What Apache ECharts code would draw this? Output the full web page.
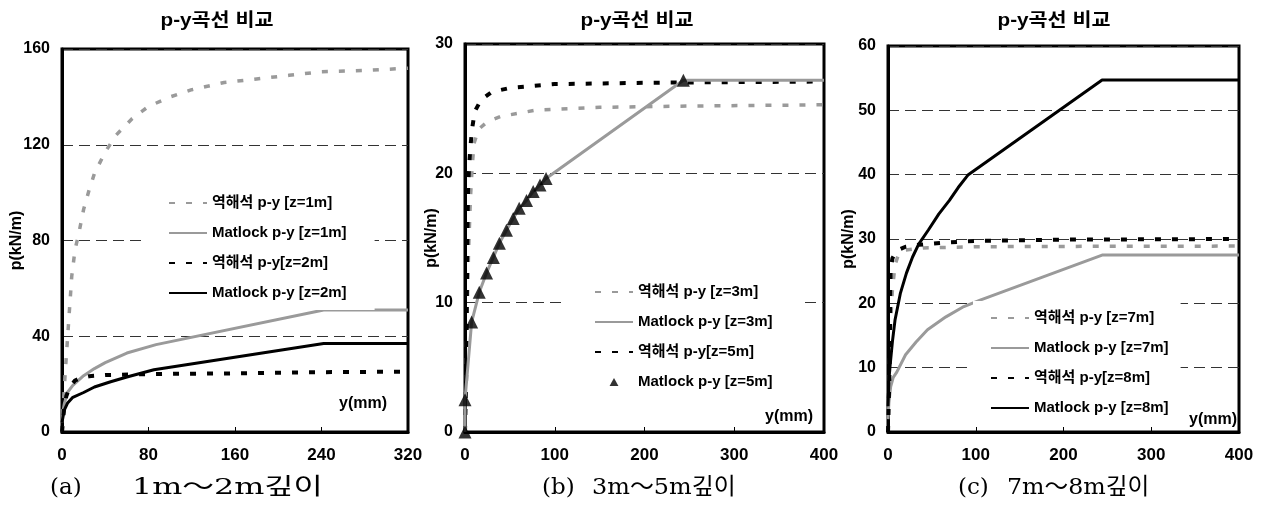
<!DOCTYPE html>
<html>
<head>
<meta charset="utf-8">
<script src="https://cdn.jsdelivr.net/npm/echarts@6/dist/echarts.min.js"></script>
<style>
html,body{margin:0;padding:0;background:#fff;}
#chart{width:1265px;height:508px;}
</style>
</head>
<body>
<div id="chart"></div>
<script>
// ---------- Data ----------
// Panel (a): 1m ~ 2m
const invA1_y = [0,1,3,6,9,12,16,20,25,30,40,50,65,80,100,120,150,180,210,240,280,320];
const invA1_p = [0,10,25,45,65,76,84,93,101,108,117,124,131,136,140,143,146,147.5,149,150.5,151,152];
const matA1_y = [0,1,2,5,10,20,30,40,60,87,242,320];
const matA1_p = [4,9,11.5,16.5,19.5,23.5,26.5,29,33,36.5,51,51];
const invA2_y = [0,2,4,7,12,17,25,40,80,160,240,320];
const invA2_p = [0,10,15,18.5,21.5,22.5,23.3,23.8,24.2,24.5,25,25.2];
const matA2_y = [0,2,5,10,20,30,45,60,85,242,320];
const matA2_p = [4,9,12,14.5,16.5,18.8,21,23,26,37,37];

// Panel (b): 3m ~ 5m
const invB3_y = [0,2,4,6,8,10,15,25,40,80,150,250,400];
const invB3_p = [0,8,14,18,20.5,22.3,23.4,24,24.4,24.9,25.1,25.2,25.3];
const matB3_y = [0,0,7.4,15.9,24,31.6,38.3,46.2,53.7,60.4,68.5,76,83.6,90.3,243.3,400];
const matB3_p = [0,2.5,8.5,10.8,12.3,13.5,14.6,15.6,16.5,17.3,17.9,18.6,19.1,19.6,27.2,27.2];
const invB5_y = [0,1.5,2,2.5,3,3.5,4.5,6,8,11,18,30,50,100,200,400];
const invB5_p = [0,5,10,14,17,19,20.5,22,23.5,24.8,25.7,26.3,26.6,26.9,27,27.1];
const matB5_y = [0,0,7.4,15.9,24,31.6,38.3,46.2,53.7,60.4,68.5,76,83.6,90.3,243.3];
const matB5_p = [0,2.5,8.5,10.8,12.3,13.5,14.6,15.6,16.5,17.3,17.9,18.6,19.1,19.6,27.2];

// Panel (c): 7m ~ 8m
const invC7_y = [0,1,2,3,5,8,12,20,40,100,200,400];
const invC7_p = [0,6,12,17,22,26,27.6,28.3,28.6,28.8,28.85,28.9];
const matC7_y = [0,1,3,6,10,20,32,45,66,85,105,244,400];
const matC7_p = [2,4.5,7,8.5,9.3,12,14,15.9,17.9,19.4,20.5,27.5,27.5];
const invC8_y = [0,1.5,2.3,2.5,3,5,10,20,35,60,100,200,400];
const invC8_p = [0,8,16,22,25,27,28.2,28.8,29.1,29.4,29.7,29.9,30];
const matC8_y = [0,1,2.3,5,8,14,21,28,35,46,58,70,80,91.5,244,400];
const matC8_p = [4,8,10.2,14,17.4,21.5,24.7,27.2,29.2,31.4,33.9,36,38,40,54.7,54.7];

// Axis ticks
const xTicksA = {min:0, max:320, interval:80};
const yTicksA = {min:0, max:160, interval:40};
const xTicksB = {min:0, max:400, interval:100};
const yTicksB = {min:0, max:30, interval:10};
const xTicksC = {min:0, max:400, interval:100};
const yTicksC = {min:0, max:60, interval:10};

// Texts
const chartTitle = 'p-y곡선 비교';
const yName = 'p(kN/m)';
const xName = 'y(mm)';
const namesA = ['역해석 p-y [z=1m]','Matlock p-y [z=1m]','역해석 p-y[z=2m]','Matlock p-y [z=2m]'];
const namesB = ['역해석 p-y [z=3m]','Matlock p-y [z=3m]','역해석 p-y[z=5m]','Matlock p-y [z=5m]'];
const namesC = ['역해석 p-y [z=7m]','Matlock p-y [z=7m]','역해석 p-y[z=8m]','Matlock p-y [z=8m]'];
const capLetters = ['(a)','(b)','(c)'];
const capDepths = ['1m～2m깊이','3m～5m깊이','7m～8m깊이'];

// ---------- Build ----------
function zip(xs, ys){ return xs.map((x,i)=>[x, ys[i]]); }

const SANS = '"Liberation Sans", "Noto Sans CJK KR", Arial, sans-serif';
const SERIF = '"DejaVu Serif", "Noto Sans CJK KR", serif';
const GREY = '#9a9a9a';

const grids = [
  {left:62, top:49, width:346, height:383},
  {left:465, top:44, width:359, height:388},
  {left:888, top:46, width:351, height:386}
];

function mkX(i, t){
  return {type:'value', gridIndex:i, min:t.min, max:t.max, interval:t.interval,
    axisLine:{show:true, onZero:false, lineStyle:{color:'#000', width:3}},
    axisTick:{show:true, inside:true, length:5, lineStyle:{color:'#000', width:1}},
    splitLine:{show:false},
    axisLabel:{color:'#000', fontFamily:SANS, fontWeight:'bold', fontSize:17, margin:15}
  };
}
function mkY(i, t, gap){
  return {type:'value', gridIndex:i, min:t.min, max:t.max, interval:t.interval,
    name:yName, nameLocation:'middle', nameRotate:90, nameGap:gap, nameMoveOverlap:false,
    nameTextStyle:{color:'#000', fontFamily:SANS, fontWeight:'bold', fontSize:16},
    axisLine:{show:true, lineStyle:{color:'#000', width:3}},
    axisTick:{show:false},
    splitLine:{show:true, lineStyle:{color:'#333', width:1, type:[11,6]}},
    axisLabel:{color:'#000', fontFamily:SANS, fontWeight:'bold', fontSize:16, margin:12}
  };
}

const dashGrey = {color:GREY, width:3.5, type:[6,11]};
const dashBlack = {color:'#000', width:4, type:[6,11]};
const solidGrey = {color:GREY, width:3};
const solidBlack = {color:'#000', width:3};

function lineSeries(name, idx, data, ls){
  return {type:'line', name:name, xAxisIndex:idx, yAxisIndex:idx, data:data,
    symbol:'none', showSymbol:false, smooth:false, lineStyle:ls, itemStyle:{color:ls.color},
    animation:false, silent:true};
}

const series = [
  lineSeries(namesA[0], 0, zip(invA1_y, invA1_p), dashGrey),
  lineSeries(namesA[1], 0, zip(matA1_y, matA1_p), solidGrey),
  lineSeries(namesA[2], 0, zip(invA2_y, invA2_p), dashBlack),
  lineSeries(namesA[3], 0, zip(matA2_y, matA2_p), solidBlack),

  lineSeries(namesB[0], 1, zip(invB3_y, invB3_p), dashGrey),
  lineSeries(namesB[2], 1, zip(invB5_y, invB5_p), dashBlack),
  lineSeries(namesB[1], 1, zip(matB3_y, matB3_p), solidGrey),
  {type:'scatter', name:namesB[3], xAxisIndex:1, yAxisIndex:1, data:zip(matB5_y, matB5_p),
    symbol:'triangle', symbolSize:13, itemStyle:{color:'#000'}, animation:false, silent:true, z:5},

  lineSeries(namesC[0], 2, zip(invC7_y, invC7_p), dashGrey),
  lineSeries(namesC[1], 2, zip(matC7_y, matC7_p), solidGrey),
  lineSeries(namesC[2], 2, zip(invC8_y, invC8_p), dashBlack),
  lineSeries(namesC[3], 2, zip(matC8_y, matC8_p), solidBlack)
];

const hiddenSym = {color:'rgba(0,0,0,0)', opacity:0, borderWidth:0};
function legendItems(names, triangleIdx){
  return names.map((n,i)=> i===triangleIdx
    ? {name:n, icon:'path://M5,0L10,9L0,9Z'}
    : {name:n, itemStyle:hiddenSym});
}

function mkLegend(names, left, top, pad, ih, triIdx){
  return {show:true, orient:'vertical', left:left, top:top, data:legendItems(names, triIdx),
    backgroundColor:'#fff', padding:pad, itemGap:12, itemWidth:38, itemHeight:ih,
    selectedMode:false, z:4, symbolKeepAspect:true,
    textStyle:{color:'#000', fontFamily:SANS, fontWeight:'bold', fontSize:15, lineHeight:18}
  };
}

const legends = [
  mkLegend(namesA, 144, 186, [8,28,8,24], 14, -1),
  mkLegend(namesB, 567, 275, [8,31,8,27], 8, 3),
  mkLegend(namesC, 973, 301, [8,12,8,17], 14, -1)
];

const titleCenters = [217, 637, 1054];
const graphics = [];
titleCenters.forEach(cx=>{
  graphics.push({type:'text', x:cx, y:21, scaleX:1.15, silent:true,
    style:{text:chartTitle, align:'center', verticalAlign:'middle', fill:'#000',
      font:'bold 18px ' + SANS}});
});
// captions
const capLetterX = [50, 542, 958];
const capDepthX = [132, 592, 1007];
const capScale = [1.38, 1.04, 1.03];
capLetters.forEach((t,i)=>{
  graphics.push({type:'text', x:capLetterX[i], y:488, silent:true,
    style:{text:t, align:'left', verticalAlign:'middle', fill:'#000', font:'23px ' + SERIF}});
  graphics.push({type:'text', x:capDepthX[i], y:488, scaleX:capScale[i], silent:true,
    style:{text:capDepths[i], align:'left', verticalAlign:'middle', fill:'#000', font:'23px ' + SERIF}});
});
// y(mm) labels
const xNamePos = [[387,404],[813,417],[1237,420]];
xNamePos.forEach(p=>{
  graphics.push({type:'text', x:p[0], y:p[1], silent:true, z:10,
    style:{text:xName, align:'right', verticalAlign:'middle', fill:'#000', font:'bold 16px ' + SANS}});
});

const option = {
  animation:false,
  backgroundColor:'#fff',
  grid: grids.map(g=>Object.assign({show:true, borderColor:'#000', borderWidth:3, backgroundColor:'transparent'}, g)),
  xAxis:[mkX(0,xTicksA), mkX(1,xTicksB), mkX(2,xTicksC)],
  yAxis:[mkY(0,yTicksA,37), mkY(1,yTicksB,25), mkY(2,yTicksC,31)],
  legend: legends,
  series: series,
  graphic: graphics
};

const chart = echarts.init(document.getElementById('chart'), null, {renderer:'canvas'});
chart.setOption(option);
</script>
</body>
</html>
